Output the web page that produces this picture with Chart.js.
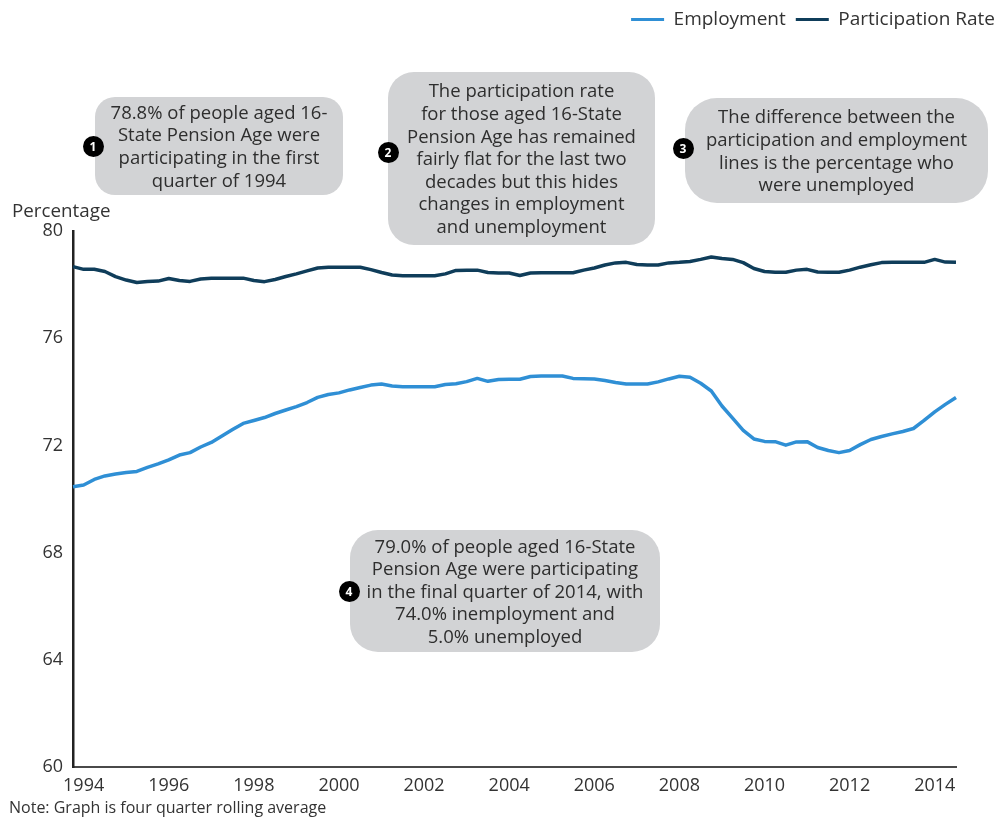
<!DOCTYPE html>
<html>
<head>
<meta charset="utf-8">
<script src="https://cdn.jsdelivr.net/npm/chart.js@4.4.1/dist/chart.umd.min.js"></script>
<style>
html,body{margin:0;padding:0;background:#fff;}
#wrap{position:relative;width:1005px;height:820px;font-family:"Open Sans",sans-serif;color:#333;overflow:hidden;}
#c{position:absolute;left:0;top:0;}
.lbl{position:absolute;white-space:nowrap;color:#333;}
.box{position:absolute;background:#d2d3d5;border-radius:22px;display:flex;align-items:center;justify-content:center;text-align:center;font-size:18.5px;line-height:22.6px;color:#2e2e2e;white-space:nowrap;}
.num{position:absolute;width:21px;height:21px;margin-left:-10.5px;margin-top:-10.5px;border-radius:50%;background:#000;color:#fff;font-weight:700;font-size:12px;line-height:21px;text-align:center;}
</style>
</head>
<body>
<div id="wrap">
<canvas id="c" width="1005" height="820"></canvas>
<div class="lbl" style="left:12px;top:198px;font-size:18.8px;line-height:25px;">Percentage</div>
<div class="lbl" style="left:9px;top:796px;font-size:16px;line-height:22px;">Note: Graph is four quarter rolling average</div>

<div class="box" style="left:95px;top:97px;width:248px;height:98px;border-radius:20px;">78.8% of people aged 16-<br>State Pension Age were<br>participating in the first<br>quarter of 1994</div>
<div class="num" style="left:93px;top:146px;">1</div>

<div class="box" style="left:388px;top:72px;width:267px;height:173px;border-radius:26px;">The participation rate<br>for those aged 16-State<br>Pension Age has remained<br>fairly flat for the last two<br>decades but this hides<br>changes in employment<br>and unemployment</div>
<div class="num" style="left:388px;top:152px;">2</div>

<div class="box" style="left:685px;top:98px;width:303px;height:105px;border-radius:32px;">The difference between the<br>participation and employment<br>lines is the percentage who<br>were unemployed</div>
<div class="num" style="left:683px;top:148px;">3</div>

<div class="box" style="left:350px;top:530px;width:310px;height:122px;border-radius:28px;">79.0% of people aged 16-State<br>Pension Age were participating<br>in the final quarter of 2014, with<br>74.0% inemployment and<br>5.0% unemployed</div>
<div class="num" style="left:349px;top:591px;">4</div>
</div>

<script>
// Quarterly periods (four quarter rolling average)
const quarters = [
  "1993 Q4",
  "1994 Q1","1994 Q2","1994 Q3","1994 Q4",
  "1995 Q1","1995 Q2","1995 Q3","1995 Q4",
  "1996 Q1","1996 Q2","1996 Q3","1996 Q4",
  "1997 Q1","1997 Q2","1997 Q3","1997 Q4",
  "1998 Q1","1998 Q2","1998 Q3","1998 Q4",
  "1999 Q1","1999 Q2","1999 Q3","1999 Q4",
  "2000 Q1","2000 Q2","2000 Q3","2000 Q4",
  "2001 Q1","2001 Q2","2001 Q3","2001 Q4",
  "2002 Q1","2002 Q2","2002 Q3","2002 Q4",
  "2003 Q1","2003 Q2","2003 Q3","2003 Q4",
  "2004 Q1","2004 Q2","2004 Q3","2004 Q4",
  "2005 Q1","2005 Q2","2005 Q3","2005 Q4",
  "2006 Q1","2006 Q2","2006 Q3","2006 Q4",
  "2007 Q1","2007 Q2","2007 Q3","2007 Q4",
  "2008 Q1","2008 Q2","2008 Q3","2008 Q4",
  "2009 Q1","2009 Q2","2009 Q3","2009 Q4",
  "2010 Q1","2010 Q2","2010 Q3","2010 Q4",
  "2011 Q1","2011 Q2","2011 Q3","2011 Q4",
  "2012 Q1","2012 Q2","2012 Q3","2012 Q4",
  "2013 Q1","2013 Q2","2013 Q3","2013 Q4",
  "2014 Q1","2014 Q2","2014 Q3"
];

const employment = [
  70.46,70.52,70.73,70.86,70.93,70.99,71.03,71.18,71.31,71.46,
  71.64,71.73,71.94,72.11,72.35,72.59,72.82,72.93,73.04,73.19,
  73.32,73.45,73.60,73.79,73.90,73.96,74.07,74.16,74.25,74.29,
  74.22,74.19,74.19,74.19,74.19,74.27,74.30,74.38,74.50,74.39,
  74.46,74.47,74.47,74.57,74.59,74.59,74.59,74.50,74.49,74.48,
  74.42,74.35,74.29,74.29,74.29,74.37,74.48,74.58,74.54,74.32,
  74.03,73.47,73.02,72.56,72.24,72.15,72.14,72.01,72.13,72.14,
  71.92,71.81,71.73,71.81,72.03,72.22,72.33,72.43,72.52,72.63,
  72.93,73.25,73.53,73.79
];

const participation = [
  78.67,78.57,78.57,78.49,78.30,78.17,78.08,78.12,78.13,78.23,
  78.15,78.12,78.21,78.24,78.24,78.24,78.24,78.15,78.11,78.19,
  78.30,78.40,78.51,78.62,78.65,78.65,78.65,78.65,78.56,78.45,
  78.36,78.33,78.33,78.33,78.33,78.40,78.53,78.54,78.54,78.45,
  78.43,78.43,78.34,78.43,78.44,78.44,78.44,78.44,78.54,78.62,
  78.73,78.81,78.83,78.75,78.73,78.73,78.81,78.83,78.86,78.94,
  79.03,78.97,78.94,78.82,78.60,78.49,78.46,78.46,78.54,78.57,
  78.47,78.46,78.46,78.54,78.65,78.74,78.82,78.83,78.83,78.83,
  78.83,78.94,78.84,78.83
];

const tickYears = ["1994","1996","1998","2000","2002","2004","2006","2008","2010","2012","2014"];
const yTicks = [60,64,68,72,76,80];

const seriesNames = ["Employment","Participation Rate"];
const seriesColors = ["#2f8fd5","#0f3d5a"];

const FONT = '"Open Sans", sans-serif';
const TXT = '#333333';

new Chart(document.getElementById('c'), {
  type: 'line',
  data: {
    labels: quarters,
    datasets: [
      {label: seriesNames[0], data: employment, borderColor: seriesColors[0], backgroundColor: seriesColors[0], borderWidth: 3.5, pointRadius: 0, tension: 0, borderJoinStyle: 'round'},
      {label: seriesNames[1], data: participation, borderColor: seriesColors[1], backgroundColor: seriesColors[1], borderWidth: 3.5, pointRadius: 0, tension: 0, borderJoinStyle: 'round'}
    ]
  },
  options: {
    responsive: false,
    animation: false,
    layout: {padding: {left: 0, right: 0, top: 0, bottom: 0}},
    plugins: {
      tooltip: {enabled: false},
      title: {display: false},
      legend: {
        display: true,
        position: 'top',
        align: 'end',
        labels: {
          font: {family: FONT, size: 19},
          color: TXT,
          boxWidth: 33,
          boxHeight: 3,
          padding: 10,
          generateLabels: (chart) => Chart.defaults.plugins.legend.labels.generateLabels(chart).map(l => Object.assign(l, {lineWidth: 0}))
        }
      }
    },
    scales: {
      x: {
        type: 'category',
        grid: {display: false, drawTicks: false},
        border: {display: true, color: '#4a4a4a', width: 2},
        ticks: {
          autoSkip: false, maxRotation: 0, minRotation: 0, padding: 8,
          font: {family: FONT, size: 18}, color: TXT,
          callback: function(v) {
            const lab = this.getLabelForValue(v);
            const [yr, q] = lab.split(' ');
            return (q === 'Q1' && tickYears.includes(yr)) ? yr : '';
          }
        },
        afterFit: (s) => { s.height = 53; }
      },
      xTop: {
        type: 'linear', position: 'top', display: true,
        grid: {display: false, drawTicks: false}, border: {display: false},
        ticks: {display: false},
        afterFit: (s) => { const lg = s.chart.legend; s.height = 231 - (lg ? lg.height : 0); }
      },
      y: {
        type: 'linear', min: 60, max: 80,
        grid: {display: false, drawTicks: false},
        border: {display: true, color: '#222222', width: 2.5},
        afterBuildTicks: (s) => { s.ticks = yTicks.map(v => ({value: v})); },
        ticks: {padding: 10, font: {family: FONT, size: 18}, color: TXT},
        afterFit: (s) => { s.width = 73; }
      },
      yRight: {
        type: 'linear', position: 'right', display: true,
        grid: {display: false, drawTicks: false}, border: {display: false},
        ticks: {display: false},
        afterFit: (s) => { s.width = 49; }
      }
    }
  }
});
</script>
</body>
</html>
